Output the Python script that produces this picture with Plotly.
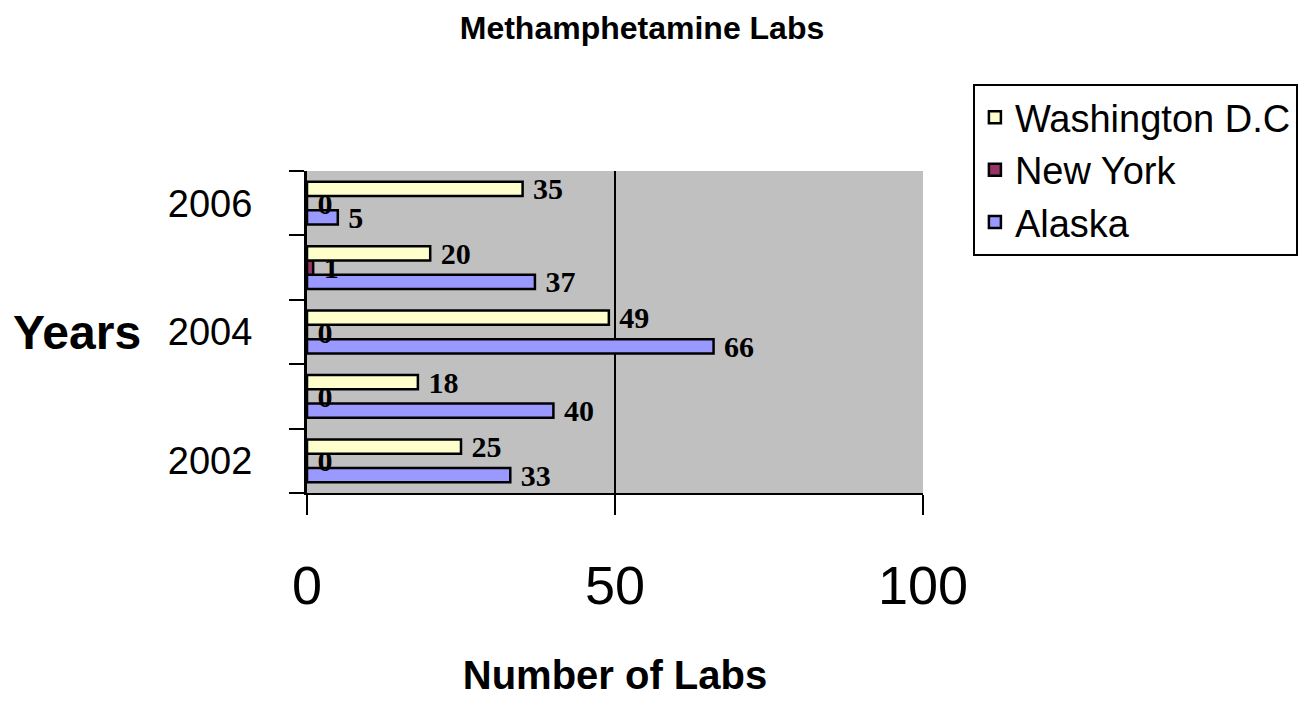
import plotly.graph_objects as go

years = ["2002", "2003", "2004", "2005", "2006"]
year_tick_text = ["2002", "", "2004", "", "2006"]
alaska = [33, 40, 66, 37, 5]
new_york = [0, 0, 0, 1, 0]
washington = [25, 18, 49, 20, 35]
x_ticks = [0, 50, 100]

series = [
    ("Alaska", alaska, "#9999FF", 3),
    ("New York", new_york, "#993366", 2),
    ("Washington D.C", washington, "#FFFFCC", 1),
]

W, H = 1308, 694

fig = go.Figure()
for name, vals, color, rank in series:
    fig.add_trace(go.Bar(
        y=years, x=vals, name=name, orientation="h",
        legendgroup=name, legendrank=rank,
        marker=dict(color=color, line=dict(color="black", width=2.5)),
        text=vals, texttemplate="\u00a0%{x}", textposition="outside",
        constraintext="none", cliponaxis=False,
        textfont=dict(family="Liberation Serif", size=30, color="black", weight="bold"),
    ))

fig.update_layout(
    width=W, height=H,
    margin=dict(l=299, r=W - 299 - 616, t=163, b=H - 163 - 326),
    paper_bgcolor="white", plot_bgcolor="#C0C0C0",
    barmode="group", bargap=0.335, bargroupgap=0,
    title=dict(text="Methamphetamine Labs", xref="container", x=634 / W, xanchor="center",
               yref="container", y=1 - 20 / H, yanchor="middle",
               font=dict(family="Liberation Sans", size=32, color="black", weight="bold")),
    legend=dict(x=1.081, y=1.27, xanchor="left", yanchor="top",
                traceorder="normal", tracegroupgap=0,
                bordercolor="black", borderwidth=2, bgcolor="white",
                font=dict(family="Liberation Sans", size=38, color="black")),
    showlegend=True,
)

fig.update_xaxes(
    range=[0, 100], tickvals=x_ticks, ticks="outside", ticklen=20, tickwidth=2, tickcolor="black",
    showline=True, linecolor="black", linewidth=2,
    showgrid=True, gridcolor="black", gridwidth=2, zeroline=False,
    tickfont=dict(family="Liberation Sans", size=54, color="black"),
    ticklabelstandoff=24,
    title=dict(text="Number of Labs", standoff=47,
               font=dict(family="Liberation Sans", size=40, color="black", weight="bold")),
)

fig.update_yaxes(
    type="category", categoryorder="array", categoryarray=years,
    tickvals=years, ticktext=year_tick_text, tickson="boundaries",
    ticks="outside", ticklen=15, tickwidth=2, tickcolor="black",
    showline=True, linecolor="black", linewidth=3, showgrid=False,
    tickfont=dict(family="Liberation Sans", size=38, color="black"),
    ticklabelstandoff=44,
)

fig.add_annotation(text="Years", xref="paper", yref="paper", x=(77 - 307) / 616, y=(497 - 335) / 326,
                   xanchor="center", yanchor="middle", showarrow=False,
                   font=dict(family="Liberation Sans", size=48, color="black", weight="bold"))

fig.write_html("out.html")
